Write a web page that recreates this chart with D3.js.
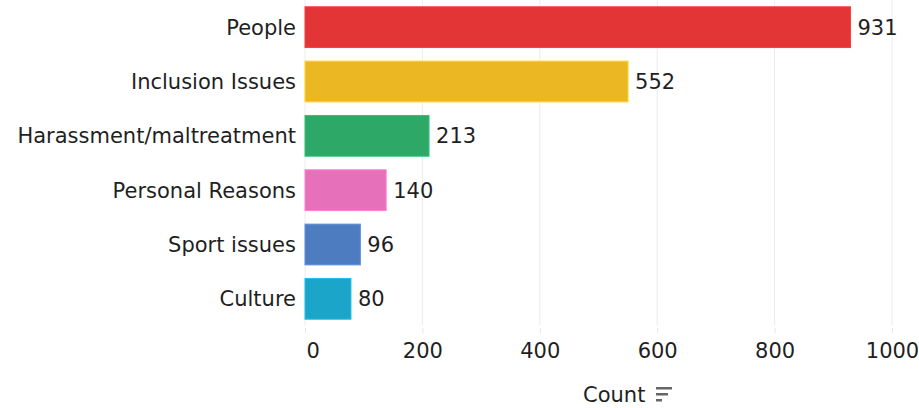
<!DOCTYPE html>
<html><head><meta charset="utf-8">
<script src="https://cdn.jsdelivr.net/npm/d3@7"></script>
<style>
body{margin:0;background:#fff;}
text{font-family:"DejaVu Sans", sans-serif;fill:#1f1f1f;}
</style></head><body>
<svg id="c" width="919" height="408"></svg>
<script>
const categories = ["People","Inclusion Issues","Harassment/maltreatment","Personal Reasons","Sport issues","Culture"];
const counts = [931,552,213,140,96,80];
const colors = ["#e33436","#ebb823","#2ea866","#e670b9","#4e7cc1","#1ba6c9"];
const tickValues = [0,200,400,600,800,1000];
const axisTitle = "Count";

const svg = d3.select("#c");
// fit font size so the longest label matches reference width
const probe = svg.append("text").attr("font-size",20).text("Harassment/maltreatment");
const w20 = probe.node().getComputedTextLength();
probe.remove();
const fs = Math.min(21, 20*282/w20);

const x = d3.scaleLinear().domain([0,1000]).range([305,892]);
const y = d3.scaleBand().domain(categories).range([0,326]).paddingInner(0.25).paddingOuter(0.125);
const plotBottom = 325;

// grid
svg.append("g").selectAll("line").data(tickValues).join("line")
  .attr("x1",d=>x(d)).attr("x2",d=>x(d)).attr("y1",0).attr("y2",plotBottom)
  .attr("stroke","#ececec").attr("stroke-width",1);

// x axis
const xAxis = d3.axisBottom(x).tickValues(tickValues).tickFormat(d3.format("d")).tickSize(5).tickPadding(10);
const gx = svg.append("g").attr("transform",`translate(0,${plotBottom+3})`).call(xAxis);
gx.select(".domain").remove();
gx.selectAll(".tick line").attr("stroke","#e6e6e6");
gx.selectAll(".tick text").attr("font-size",fs).attr("font-family","DejaVu Sans").attr("fill","#1f1f1f")
  .attr("text-anchor",d=>d===0?"start":"middle").attr("dx",d=>d===0?1:0);

// bars
svg.append("g").selectAll("rect").data(categories).join("rect")
  .attr("x",x(0)).attr("y",d=>y(d))
  .attr("width",(d,i)=>x(counts[i])-x(0)-1).attr("height",y.bandwidth())
  .attr("fill",(d,i)=>colors[i])
  .attr("stroke",(d,i)=>d3.color(colors[i]).brighter(0.4)).attr("stroke-width",1);

// y labels
svg.append("g").selectAll("text").data(categories).join("text")
  .attr("x",296).attr("y",d=>y(d)+y.bandwidth()/2).attr("dy","0.36em")
  .attr("text-anchor","end").attr("font-size",fs).text(d=>d);

// value labels
svg.append("g").selectAll("text").data(categories).join("text")
  .attr("x",(d,i)=>x(counts[i])+6).attr("y",d=>y(d)+y.bandwidth()/2).attr("dy","0.36em")
  .attr("font-size",fs).text((d,i)=>counts[i]);

// axis title
svg.append("text").attr("x",583).attr("y",394).attr("dy","0.36em").attr("font-size",fs).text(axisTitle);
const ic = svg.append("g").attr("fill","#666");
[[16,0],[12,6],[6,12]].forEach(([w,dy])=>ic.append("rect").attr("x",656).attr("y",387+dy).attr("width",w).attr("height",2.5));
</script></body></html>
